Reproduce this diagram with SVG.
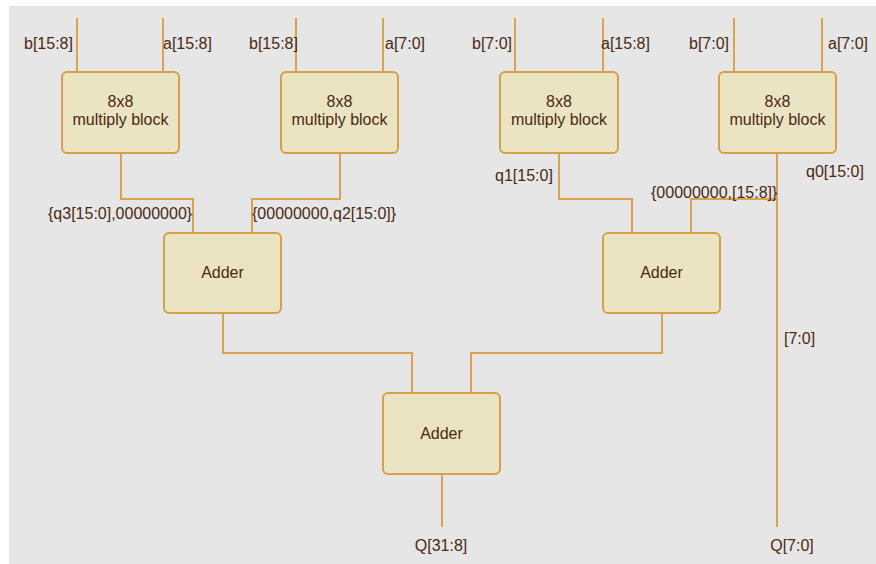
<svg xmlns="http://www.w3.org/2000/svg" width="876" height="564" viewBox="0 0 876 564">
<style>
.blk{fill:#ebe4c2;stroke:#d6a04a;stroke-width:2}
.w{fill:none;stroke:#daa34f;stroke-width:2}
text{font-family:"Liberation Sans",Arial,sans-serif;font-size:16px;fill:#4a2a12}
.c{text-anchor:middle}
</style>
<rect x="0" y="0" width="876" height="564" fill="#ffffff"/>
<rect x="9" y="6" width="867" height="558" fill="#e6e6e6"/>
<g id="connectors">
<path class="w" d="M77 18V72M163 18V72"/>
<path class="w" d="M296 18V72M383 18V72"/>
<path class="w" d="M515 18V72M603 18V72"/>
<path class="w" d="M734 18V72M822 18V72"/>
<path class="w" d="M121 153V199H193V233"/>
<path class="w" d="M340 153V199H252V233"/>
<path class="w" d="M559 153V199H632V233"/>
<path class="w" d="M777 153V527"/>
<path class="w" d="M777 199H691V233"/>
<path class="w" d="M223 313V353H412V393"/>
<path class="w" d="M662 313V353H471V393"/>
<path class="w" d="M442 474V527"/>
</g>
<g id="labels">
<text x="24" y="49">b[15:8]</text>
<text x="163" y="49">a[15:8]</text>
<text x="249" y="49">b[15:8]</text>
<text x="385" y="49">a[7:0]</text>
<text x="472" y="49">b[7:0]</text>
<text x="601" y="49">a[15:8]</text>
<text x="689" y="49">b[7:0]</text>
<text x="828" y="49">a[7:0]</text>
<text x="48" y="219">{q3[15:0],00000000}</text>
<text x="252" y="219">{00000000,q2[15:0]}</text>
<text x="495" y="181">q1[15:0]</text>
<text x="806" y="177">q0[15:0]</text>
<text x="651" y="198">{00000000,[15:8]}</text>
<text x="784" y="344">[7:0]</text>
<text x="441" y="551" class="c">Q[31:8]</text>
<text x="792" y="551" class="c">Q[7:0]</text>
</g>
<g id="mult3">
<rect class="blk" x="62" y="72" width="117" height="81" rx="5"/>
<text class="c" x="120.5" y="107">8x8</text>
<text class="c" x="120.5" y="125">multiply block</text>
</g>
<g id="mult2">
<rect class="blk" x="281" y="72" width="117" height="81" rx="5"/>
<text class="c" x="339.5" y="107">8x8</text>
<text class="c" x="339.5" y="125">multiply block</text>
</g>
<g id="mult1">
<rect class="blk" x="500" y="72" width="118" height="81" rx="5"/>
<text class="c" x="559" y="107">8x8</text>
<text class="c" x="559" y="125">multiply block</text>
</g>
<g id="mult0">
<rect class="blk" x="719" y="72" width="117" height="81" rx="5"/>
<text class="c" x="777.5" y="107">8x8</text>
<text class="c" x="777.5" y="125">multiply block</text>
</g>
<g id="adder1">
<rect class="blk" x="164" y="233" width="117" height="80" rx="5"/>
<text class="c" x="222.5" y="278">Adder</text>
</g>
<g id="adder2">
<rect class="blk" x="603" y="233" width="117" height="80" rx="5"/>
<text class="c" x="661.5" y="278">Adder</text>
</g>
<g id="adder3">
<rect class="blk" x="383" y="393" width="117" height="81" rx="5"/>
<text class="c" x="441.5" y="439">Adder</text>
</g>
</svg>
